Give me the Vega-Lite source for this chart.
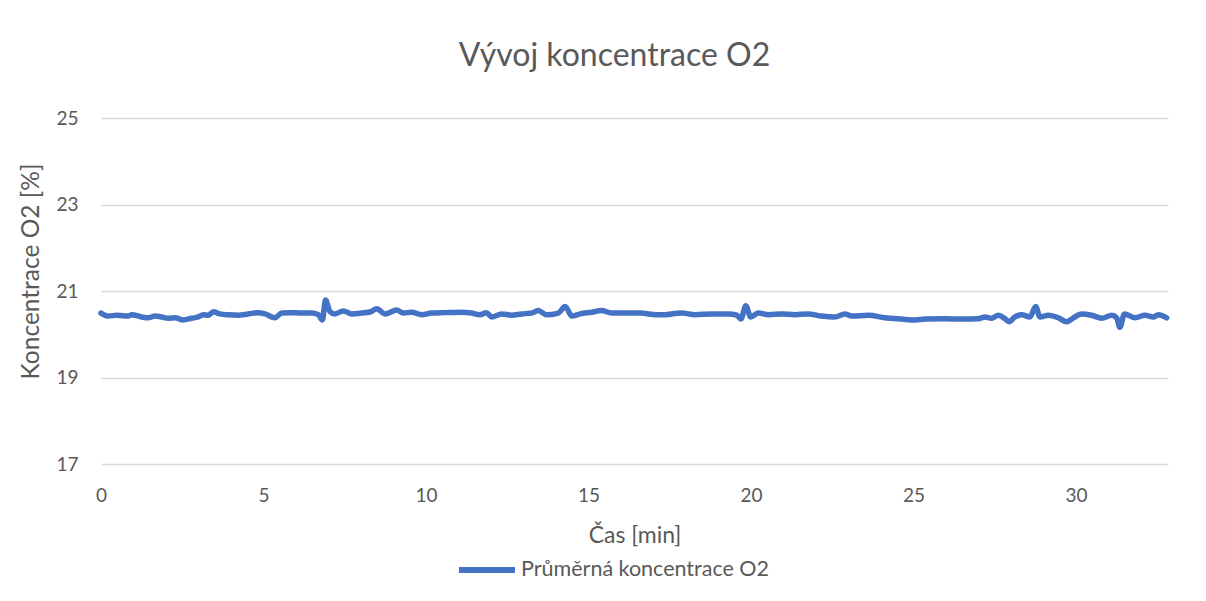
{
  "$schema": "https://vega.github.io/schema/vega-lite/v6.json",
  "width": 1067,
  "height": 346,
  "autosize": {"type": "none"},
  "padding": {"left": 101, "top": 118, "right": 38, "bottom": 137},
  "background": "white",
  "config": {
    "font": "Lato",
    "view": {"stroke": null}
  },
  "title": {
    "text": "Vývoj koncentrace O2",
    "font": "Lato",
    "fontSize": 32,
    "fontWeight": "normal",
    "color": "#595959",
    "anchor": "middle",
    "frame": "group",
    "dx": -20,
    "baseline": "alphabetic",
    "offset": 11
  },
  "data": {
    "values": [
      {"t": 0.0, "v": 20.49}, {"t": 0.22, "v": 20.42}, {"t": 0.5, "v": 20.44}, {"t": 0.84, "v": 20.42},
      {"t": 0.95, "v": 20.45}, {"t": 1.25, "v": 20.40}, {"t": 1.45, "v": 20.38}, {"t": 1.66, "v": 20.42},
      {"t": 1.87, "v": 20.40}, {"t": 2.07, "v": 20.37}, {"t": 2.28, "v": 20.38}, {"t": 2.53, "v": 20.33},
      {"t": 2.79, "v": 20.37}, {"t": 2.99, "v": 20.40}, {"t": 3.15, "v": 20.45}, {"t": 3.30, "v": 20.44},
      {"t": 3.46, "v": 20.52}, {"t": 3.66, "v": 20.47}, {"t": 3.92, "v": 20.45}, {"t": 4.23, "v": 20.44},
      {"t": 4.53, "v": 20.47}, {"t": 4.84, "v": 20.50}, {"t": 5.05, "v": 20.47}, {"t": 5.35, "v": 20.38},
      {"t": 5.56, "v": 20.49}, {"t": 5.87, "v": 20.50}, {"t": 6.17, "v": 20.49}, {"t": 6.48, "v": 20.49},
      {"t": 6.69, "v": 20.45}, {"t": 6.81, "v": 20.33}, {"t": 6.91, "v": 20.79}, {"t": 7.04, "v": 20.53},
      {"t": 7.19, "v": 20.47}, {"t": 7.46, "v": 20.54}, {"t": 7.71, "v": 20.47}, {"t": 8.02, "v": 20.49},
      {"t": 8.30, "v": 20.52}, {"t": 8.48, "v": 20.59}, {"t": 8.74, "v": 20.47}, {"t": 9.10, "v": 20.56},
      {"t": 9.30, "v": 20.49}, {"t": 9.56, "v": 20.51}, {"t": 9.87, "v": 20.45}, {"t": 10.17, "v": 20.49},
      {"t": 10.58, "v": 20.50}, {"t": 11.10, "v": 20.51}, {"t": 11.40, "v": 20.49}, {"t": 11.66, "v": 20.45},
      {"t": 11.86, "v": 20.50}, {"t": 12.02, "v": 20.40}, {"t": 12.33, "v": 20.47}, {"t": 12.63, "v": 20.44},
      {"t": 12.94, "v": 20.47}, {"t": 13.25, "v": 20.49}, {"t": 13.45, "v": 20.55}, {"t": 13.71, "v": 20.45},
      {"t": 14.07, "v": 20.49}, {"t": 14.28, "v": 20.64}, {"t": 14.49, "v": 20.42}, {"t": 14.74, "v": 20.47},
      {"t": 15.10, "v": 20.51}, {"t": 15.40, "v": 20.55}, {"t": 15.71, "v": 20.49}, {"t": 16.12, "v": 20.49},
      {"t": 16.63, "v": 20.49}, {"t": 16.84, "v": 20.47}, {"t": 17.25, "v": 20.45}, {"t": 17.87, "v": 20.49},
      {"t": 18.28, "v": 20.45}, {"t": 18.79, "v": 20.47}, {"t": 19.30, "v": 20.47}, {"t": 19.56, "v": 20.44},
      {"t": 19.69, "v": 20.35}, {"t": 19.84, "v": 20.66}, {"t": 19.99, "v": 20.40}, {"t": 20.23, "v": 20.49},
      {"t": 20.54, "v": 20.45}, {"t": 20.94, "v": 20.47}, {"t": 21.35, "v": 20.45}, {"t": 21.76, "v": 20.47},
      {"t": 22.17, "v": 20.42}, {"t": 22.58, "v": 20.40}, {"t": 22.89, "v": 20.47}, {"t": 23.10, "v": 20.42},
      {"t": 23.61, "v": 20.44}, {"t": 24.12, "v": 20.38}, {"t": 24.63, "v": 20.35}, {"t": 25.05, "v": 20.33},
      {"t": 25.35, "v": 20.35}, {"t": 25.97, "v": 20.36}, {"t": 26.58, "v": 20.35}, {"t": 26.99, "v": 20.36},
      {"t": 27.20, "v": 20.40}, {"t": 27.40, "v": 20.37}, {"t": 27.61, "v": 20.44}, {"t": 27.81, "v": 20.36},
      {"t": 27.94, "v": 20.29}, {"t": 28.12, "v": 20.40}, {"t": 28.33, "v": 20.45}, {"t": 28.58, "v": 20.40},
      {"t": 28.76, "v": 20.64}, {"t": 28.89, "v": 20.40}, {"t": 29.15, "v": 20.44}, {"t": 29.46, "v": 20.38},
      {"t": 29.71, "v": 20.29}, {"t": 29.92, "v": 20.38}, {"t": 30.17, "v": 20.47}, {"t": 30.48, "v": 20.44},
      {"t": 30.79, "v": 20.37}, {"t": 31.10, "v": 20.44}, {"t": 31.25, "v": 20.38}, {"t": 31.35, "v": 20.16},
      {"t": 31.49, "v": 20.47}, {"t": 31.82, "v": 20.38}, {"t": 32.12, "v": 20.44}, {"t": 32.38, "v": 20.40},
      {"t": 32.53, "v": 20.45}, {"t": 32.79, "v": 20.38}
    ]
  },
  "mark": {"type": "line", "strokeWidth": 5.5, "strokeCap": "round", "strokeJoin": "round", "interpolate": "monotone"},
  "encoding": {
    "x": {
      "field": "t",
      "type": "quantitative",
      "scale": {"domain": [0, 32.83], "nice": false, "zero": false},
      "axis": {
        "title": "Čas [min]",
        "values": [0, 5, 10, 15, 20, 25, 30],
        "grid": false,
        "domain": false,
        "ticks": false,
        "labelFlush": false,
        "labelFont": "Lato",
        "labelFontSize": 19,
        "labelColor": "#595959",
        "labelPadding": 22,
        "titleFont": "Lato",
        "titleFontSize": 23,
        "titleFontWeight": "normal",
        "titleColor": "#595959",
        "titleBaseline": "middle",
        "titleY": 71
      }
    },
    "y": {
      "field": "v",
      "type": "quantitative",
      "scale": {"domain": [17, 25], "nice": false, "zero": false},
      "axis": {
        "title": "Koncentrace O2 [%]",
        "values": [17, 19, 21, 23, 25],
        "grid": true,
        "gridColor": "#D9D9D9",
        "gridWidth": 1.5,
        "domain": false,
        "ticks": false,
        "labelFlush": false,
        "labelFont": "Lato",
        "labelFontSize": 19,
        "labelColor": "#595959",
        "labelPadding": 23,
        "titleFont": "Lato",
        "titleFontSize": 24.5,
        "titleFontWeight": "normal",
        "titleColor": "#595959",
        "titleAlign": "center",
        "titleBaseline": "middle",
        "titleAngle": -90,
        "titleX": -70,
        "titleY": 153
      }
    },
    "color": {
      "datum": "Průměrná koncentrace O2",
      "type": "nominal",
      "scale": {"range": ["#4472C4"]},
      "legend": {
        "title": null,
        "orient": "none",
        "legendX": 355,
        "legendY": 421,
        "direction": "horizontal",
        "symbolType": "stroke",
        "symbolSize": 3136,
        "symbolStrokeWidth": 6,
        "labelFont": "Lato",
        "labelFontSize": 21.5,
        "labelLimit": 0,
        "labelColor": "#595959",
        "labelOffset": 3
      }
    }
  }
}
